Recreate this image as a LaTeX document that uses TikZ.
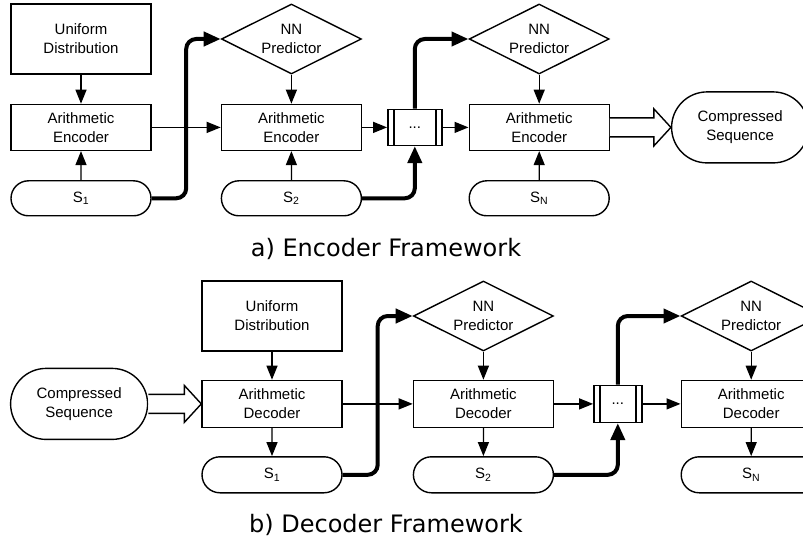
\documentclass[tikz,border=0pt]{standalone}
\usepackage{fontspec}
\setmainfont{Liberation Sans}
\newfontfamily\captionfont{DejaVu Sans}
\usetikzlibrary{positioning,shapes.geometric,shapes.misc,arrows.meta,calc}

\begin{document}
\begin{tikzpicture}[x=1pt,y=-1pt,
                    >={Triangle[length=14pt,width=11pt]},->,
                    line width=1.3pt,
                    basenode/.style={draw,line width=1.4pt,inner sep=0pt,align=center,font={\fontsize{15pt}{19pt}\selectfont},minimum width=140pt},
                    unit/.style={basenode,rectangle,minimum height=46pt},
                    source/.style={basenode,rectangle,minimum height=70pt},
                    predictor/.style={basenode,diamond,aspect=2,minimum height=70pt},
                    symbol/.style={basenode,rounded rectangle,minimum height=35pt},
                    stream/.style={basenode,rounded rectangle,minimum width=137pt,minimum height=71pt},
                    gap/.style={basenode,rectangle,minimum width=54pt,minimum height=36pt,
                      path picture={\draw[-] ([xshift=6pt]path picture bounding box.north west) -- ([xshift=6pt]path picture bounding box.south west);
                                    \draw[-] ([xshift=-6pt]path picture bounding box.north east) -- ([xshift=-6pt]path picture bounding box.south east);}},
                    feed/.style={-{Triangle[length=17pt,width=14pt]},line width=4pt,rounded corners=10pt},
                    hollow/.style={-,draw,fill=white,line width=1.4pt,line join=miter},
                    caption/.style={font={\captionfont\fontsize{24pt}{28pt}\selectfont},anchor=base,inner sep=0pt}]
    \useasboundingbox (0,0) rectangle (803,537);
    \clip (0,0) rectangle (803,537);
    \node[source] (enc-uniform) at (81,39) {Uniform\\Distribution};
    \node[unit] (enc-ac1) [below=29pt of enc-uniform] {Arithmetic\\Encoder};
    \node[symbol] (enc-s1) [below=29pt of enc-ac1] {S\textsubscript{1}};
    \node[unit] (enc-ac2) [right=69pt of enc-ac1] {Arithmetic\\Encoder};
    \node[predictor] (enc-nn2) [above=29pt of enc-ac2] {NN\\Predictor};
    \node[symbol] (enc-s2) [below=29pt of enc-ac2] {S\textsubscript{2}};
    \node[gap] (enc-dots) [right=25pt of enc-ac2] {...};
    \node[unit] (enc-ac3) [right=26pt of enc-dots] {Arithmetic\\Encoder};
    \node[predictor] (enc-nn3) [above=29pt of enc-ac3] {NN\\Predictor};
    \node[symbol] (enc-sn) [below=29pt of enc-ac3] {S\textsubscript{N}};
    \node[stream] (enc-out) [right=61pt of enc-ac3] {Compressed\\Sequence};
    \node[caption] (enc-title) at (386,257) {a) Encoder Framework};
    \path (enc-ac1) -- coordinate[midway] (enc-bend) (enc-ac2);
    \draw (enc-uniform) -- (enc-ac1);
    \draw (enc-s1) -- (enc-ac1);
    \draw (enc-ac1) -- (enc-ac2);
    \draw (enc-nn2) -- (enc-ac2);
    \draw (enc-s2) -- (enc-ac2);
    \draw (enc-ac2) -- (enc-dots);
    \draw (enc-dots) -- (enc-ac3);
    \draw (enc-nn3) -- (enc-ac3);
    \draw (enc-sn) -- (enc-ac3);
    \draw[feed] (enc-s1.east) -- (enc-s1.east -| enc-bend) |- (enc-nn2.west);
    \draw[feed] (enc-s2.east) -| (enc-dots.south);
    \draw[feed] (enc-dots.north) |- (enc-nn3.west);
    \draw[hollow] ([yshift=-9.5pt]enc-ac3.east) -- ([xshift=-17pt,yshift=-9.5pt]enc-out.west) -- ([xshift=-17pt,yshift=-18.5pt]enc-out.west) -- (enc-out.west) -- ([xshift=-17pt,yshift=18.5pt]enc-out.west) -- ([xshift=-17pt,yshift=9.5pt]enc-out.west) -- ([yshift=9.5pt]enc-ac3.east);
    \node[source] (dec-uniform) at (272,316) {Uniform\\Distribution};
    \node[unit,minimum height=47pt] (dec-ac1) [below=28pt of dec-uniform] {Arithmetic\\Decoder};
    \node[symbol,minimum height=36pt] (dec-s1) [below=28pt of dec-ac1] {S\textsubscript{1}};
    \node[stream] (dec-in) [left=53pt of dec-ac1] {Compressed\\Sequence};
    \node[unit,minimum height=47pt] (dec-ac2) [right=70pt of dec-ac1] {Arithmetic\\Decoder};
    \node[predictor] (dec-nn2) [above=28pt of dec-ac2] {NN\\Predictor};
    \node[symbol,minimum height=36pt] (dec-s2) [below=28pt of dec-ac2] {S\textsubscript{2}};
    \node[gap,minimum width=48pt,minimum height=37pt] (dec-dots) [right=39pt of dec-ac2] {...};
    \node[unit,minimum height=47pt] (dec-ac3) [right=38pt of dec-dots] {Arithmetic\\Decoder};
    \node[predictor] (dec-nn3) [above=28pt of dec-ac3] {NN\\Predictor};
    \node[symbol,minimum height=36pt] (dec-sn) [below=28pt of dec-ac3] {S\textsubscript{N}};
    \node[caption] (dec-title) at (386,532) {b) Decoder Framework};
    \path (dec-ac1) -- coordinate[midway] (dec-bend) (dec-ac2);
    \draw (dec-uniform) -- (dec-ac1);
    \draw (dec-ac1) -- (dec-s1);
    \draw (dec-ac1) -- (dec-ac2);
    \draw (dec-nn2) -- (dec-ac2);
    \draw (dec-ac2) -- (dec-s2);
    \draw (dec-ac2) -- (dec-dots);
    \draw (dec-dots) -- (dec-ac3);
    \draw (dec-nn3) -- (dec-ac3);
    \draw (dec-ac3) -- (dec-sn);
    \draw[feed] (dec-s1.east) -- (dec-s1.east -| dec-bend) |- (dec-nn2.west);
    \draw[feed] (dec-s2.east) -| (dec-dots.south);
    \draw[feed] (dec-dots.north) |- (dec-nn3.west);
    \draw[hollow] ([yshift=-9.5pt]dec-in.east) -- ([xshift=-17pt,yshift=-9.5pt]dec-ac1.west) -- ([xshift=-17pt,yshift=-18.5pt]dec-ac1.west) -- (dec-ac1.west) -- ([xshift=-17pt,yshift=18.5pt]dec-ac1.west) -- ([xshift=-17pt,yshift=9.5pt]dec-ac1.west) -- ([yshift=9.5pt]dec-in.east);
\end{tikzpicture}
\end{document}
